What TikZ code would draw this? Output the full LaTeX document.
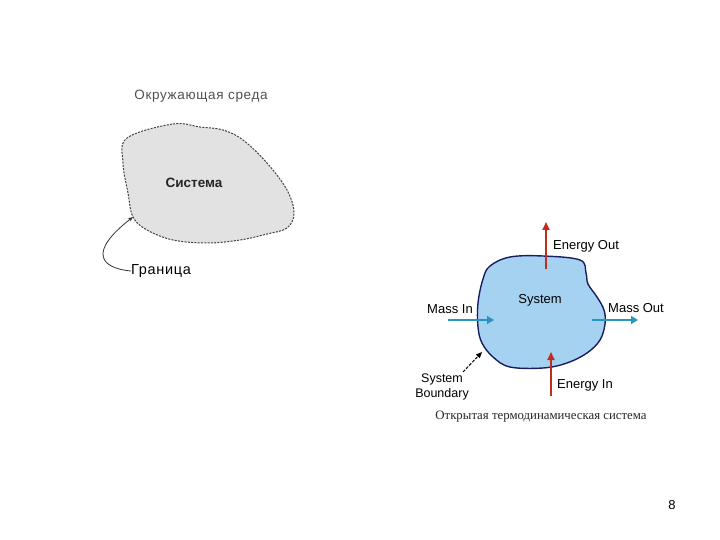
\documentclass[tikz,border=0pt]{standalone}
\usepackage{fontspec}
\setmainfont{Liberation Sans}
\newfontfamily\spacedsans[LetterSpace=5]{Liberation Sans}
\newfontfamily\serifcap{Liberation Serif}
\usetikzlibrary{arrows.meta}
\definecolor{graytext}{RGB}{80,80,80}
\definecolor{blobgray}{RGB}{226,226,226}
\definecolor{blobblue}{RGB}{165,210,240}
\definecolor{navy}{RGB}{25,30,100}
\definecolor{redarrow}{RGB}{190,45,30}
\definecolor{bluearrow}{RGB}{40,150,195}
\tikzset{
  lbl/.style={inner sep=0pt, font=\fontsize{13}{15}\selectfont},
  redflow/.style={draw=redarrow, line width=1.7pt, -{Triangle[length=8pt,width=7pt]}},
  blueflow/.style={draw=bluearrow, line width=2.6pt, -{Triangle[length=7pt,width=8pt]}},
}
\begin{document}
\begin{tikzpicture}[x=1pt,y=-1pt]
\useasboundingbox (0,0) rectangle (720,540);
% ---------- left: closed system ----------
\draw[fill=blobgray, draw=black!75, line width=1pt, dash pattern=on 2pt off 1.3pt]
  plot[smooth cycle, tension=0.6] coordinates {
   (127,138) (173,124) (200,127) (223,130) (243,140) (267,163) (287,190) (294,213)
   (287,228) (267,234) (240,240) (207,243) (173,240) (147,230) (133,217) (128,193) (123,163)};
\node[lbl, text=graytext, font=\spacedsans\fontsize{13.5}{15}\selectfont] (env) at (201,96) {Окружающая среда};
\node[lbl, text=black!85, font=\bfseries\fontsize{13.5}{16}\selectfont] (sys1) at (194,183) {Система};
\node[lbl, font=\spacedsans\fontsize{14.5}{16}\selectfont] (bnd1) at (161,271) {Граница};
\coordinate (b1tip) at (133,217);
\draw[black!80, line width=0.8pt, -{Stealth[length=5pt,width=4pt]}]
  (bnd1.west) .. controls (100,268) and (88,252) .. (b1tip);
% ---------- right: open system ----------
\draw[fill=blobblue, draw=navy, line width=1.4pt]
  plot[smooth cycle, tension=0.6] coordinates {
   (483,279) (490,266) (510,257) (543,256) (580,260) (586,273) (588,284) (597,297)
   (604,310) (605,324) (600,340) (587,353) (567,363) (543,368) (510,367) (493,357)
   (482,343) (478,327) (478,303)};
\node[lbl] (sys2) at (540,300) {System};
% energy out
\coordinate (eoS) at (546,269);
\coordinate (eoT) at (546,222);
\draw[redflow] (eoS) -- (eoT);
\node[lbl, anchor=west] (eo) at (553,246) {Energy Out};
% energy in
\coordinate (eiS) at (551,396);
\coordinate (eiT) at (551,352);
\draw[redflow] (eiS) -- (eiT);
\node[lbl, anchor=west] (ei) at (557,385) {Energy In};
% mass in
\coordinate (miS) at (448,320);
\coordinate (miT) at (494,320);
\draw[blueflow] (miS) -- (miT);
\node[lbl] (mi) at (450,309) {Mass In};
% mass out
\coordinate (moS) at (592,320);
\coordinate (moT) at (638,320);
\draw[blueflow] (moS) -- (moT);
\node[lbl] (mo) at (636,308) {Mass Out};
% boundary
\node[lbl, align=center, font=\fontsize{12.5}{15}\selectfont] (bnd2) at (442,387) {System\\Boundary};
\coordinate (b2tip) at (482,352);
\draw[black, line width=1pt, dash pattern=on 3pt off 1.5pt, -{Triangle[length=6pt,width=5pt]}]
  (463,372) -- (b2tip);
\node[lbl, font=\serifcap\fontsize{12.8}{14}\selectfont, text=black!85] (cap) at (541,417) {Открытая термодинамическая система};
% page number
\node[lbl, font=\fontsize{13}{15}\selectfont] (pg) at (672,505) {8};
\end{tikzpicture}
\end{document}
